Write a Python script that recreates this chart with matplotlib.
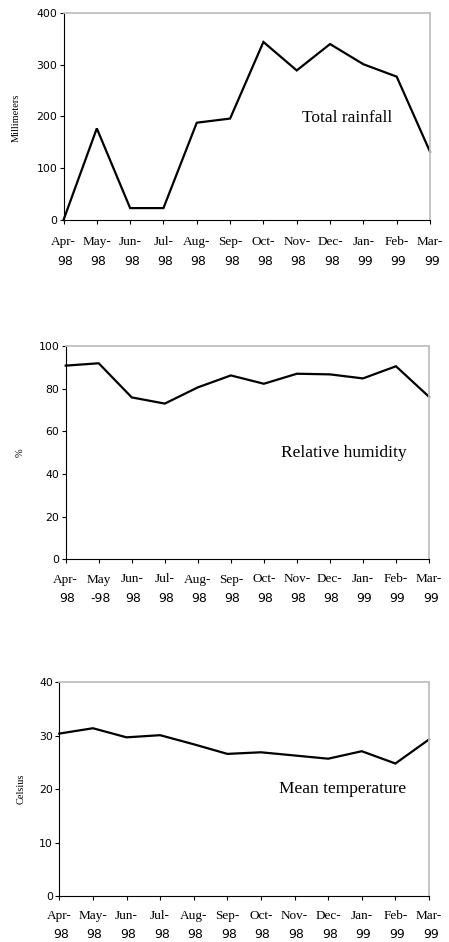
import matplotlib
matplotlib.use('Agg')
import matplotlib.pyplot as plt
from matplotlib.transforms import blended_transform_factory

# Daten
months = ['Apr-', 'May-', 'Jun-', 'Jul-', 'Aug-', 'Sep-', 'Oct-', 'Nov-', 'Dec-', 'Jan-', 'Feb-', 'Mar-']
years = ['98', '98', '98', '98', '98', '98', '98', '98', '98', '99', '99', '99']
months_hum = ['Apr-', 'May', 'Jun-', 'Jul-', 'Aug-', 'Sep-', 'Oct-', 'Nov-', 'Dec-', 'Jan-', 'Feb-', 'Mar-']
years_hum = ['98', '-98', '98', '98', '98', '98', '98', '98', '98', '99', '99', '99']

rainfall = [0, 177, 23, 23, 188, 196, 344, 289, 340, 301, 277, 132]
humidity = [90.8, 91.9, 75.9, 73.0, 80.6, 86.2, 82.3, 87.0, 86.7, 84.8, 90.5, 76.2]
temperature = [30.4, 31.4, 29.7, 30.1, 28.4, 26.6, 26.9, 26.3, 25.7, 27.1, 24.8, 29.3]

W, H = 449, 942
fig = plt.figure(figsize=(W / 100, H / 100), dpi=100)
serif = 'Liberation Serif'
sans = 'DejaVu Sans'


def panel(box, values, ymax, ystep, ylabel, ylab_xy, note, note_xy, mlabels, ylabels, label_rows):
    """Ein Teildiagramm zeichnen; box = (links, oben, rechts, unten) in Pixeln."""
    l, t, r, b = box
    ax = fig.add_axes([l / W, 1 - b / H, (r - l) / W, (b - t) / H])
    x = list(range(len(values)))
    ax.plot(x, values, color='black', linewidth=1.6, solid_joinstyle='miter', clip_on=False)
    ax.set_xlim(0, len(values) - 1)
    ax.set_ylim(0, ymax)
    ax.set_yticks(range(0, ymax + 1, ystep))
    ax.set_xticks(x)
    ax.set_xticklabels([])
    ax.tick_params(axis='y', direction='out', length=3, width=0.8, labelsize=7.8, pad=1.5)
    ax.tick_params(axis='x', direction='out', length=3, width=0.8)
    for lab in ax.get_yticklabels():
        lab.set_family(sans)
    for s in ['left', 'bottom']:
        ax.spines[s].set_color('black')
        ax.spines[s].set_linewidth(0.8)
    for s in ['right', 'top']:
        ax.spines[s].set_color('#c0c0c0')
        ax.spines[s].set_linewidth(1.3)
    # Achsenbeschriftung x: Monat (Serif) und Jahr (Sans)
    tr = blended_transform_factory(ax.transData, fig.transFigure)
    y1, y2 = label_rows
    for i in x:
        ax.text(i, 1 - y1 / H, mlabels[i], transform=tr, ha='center', va='center',
                fontsize=9.5, family=serif)
        ax.text(i + 0.05, 1 - y2 / H, ylabels[i], transform=tr, ha='center', va='center',
                fontsize=9, family=sans)
    fig.text(ylab_xy[0] / W, 1 - ylab_xy[1] / H, ylabel, rotation=90, ha='center', va='center',
             fontsize=7.5, family=serif)
    ax.text(note_xy[0], note_xy[1], note, ha='left', va='center', fontsize=12.5, family=serif)
    return ax


panel((63.5, 13, 430, 220), rainfall, 400, 100, 'Millimeters', (16, 118),
      'Total rainfall', (7.15, 197), months, years, (242, 262))
panel((65.7, 346, 429, 559.3), humidity, 100, 20, '%', (20, 453),
      'Relative humidity', (6.52, 50), months_hum, years_hum, (579.5, 599))
panel((59.3, 682.3, 429, 896), temperature, 40, 10, 'Celsius', (21, 789),
      'Mean temperature', (6.53, 20), months, years, (916, 935))

fig.savefig('out.png', dpi=100, facecolor='white')
